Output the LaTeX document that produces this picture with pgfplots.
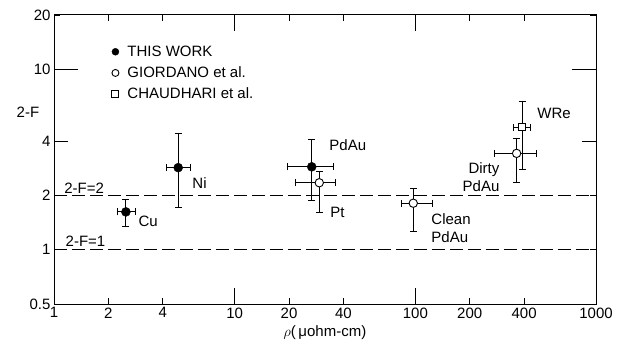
\documentclass[border=0pt]{standalone}
\usepackage{fontspec}
\setmainfont{Liberation Sans}
\usepackage{pgfplots}
\pgfplotsset{compat=1.18}
\begin{document}
\begin{tikzpicture}[font=\fontsize{15}{18}\selectfont]
\useasboundingbox (-54pt,-41pt) rectangle (563pt,304pt);
\begin{axis}[
  at={(0pt,0pt)}, anchor=south west,
  scale only axis, width=542pt, height=289pt,
  xmode=log, ymode=log,
  xmin=1, xmax=1000, ymin=0.5, ymax=20,
  axis line style={line width=1pt},
  xtick={1,2,4,10,20,40,100,200,400,1000},
  xticklabels={1,2,4,10,20,40,100,200,400,1000},
  ytick={0.5,1,2,4,10,20},
  yticklabels={0.5,1,2,4,10,20},
  xminorticks=false,
  minor ytick={4},
  major tick length=6pt, minor tick length=14pt,
  tick style={line width=0.9pt, black},
  extra x ticks={10,100}, extra x tick labels={},
  extra x tick style={major tick length=16pt},
  extra y ticks={10}, extra y tick labels={},
  extra y tick style={major tick length=24pt},
  /pgf/number format/assume math mode=true,
  xlabel={$\rho$(\,μohm-cm)},
  xlabel style={at={(axis description cs:0.5,-0.100)}, anchor=center},
  ylabel={2-F},
  ylabel style={rotate=-90, at={(axis description cs:-0.048,0.664)}, anchor=center},
  legend style={draw=none, fill=none, at={(0.101,0.908)}, anchor=north west, row sep=5pt},
  legend cell align=left,
  legend image code/.code={\draw[#1, mark size=3.5pt] plot coordinates {(0pt,0pt)};},
]
\addplot[black, line width=0.9pt, dash pattern=on 13pt off 5pt, forget plot] coordinates {(1,2) (1000,2)};
\addplot[black, line width=0.9pt, dash pattern=on 13pt off 5pt, forget plot] coordinates {(1,1) (1000,1)};

\addplot[only marks, black, mark=*, mark size=4.5pt, mark options={fill=black},
  error bars/.cd, x dir=both, x explicit, y dir=both, y explicit,
  error bar style={line width=0.9pt, black},
  error mark options={rotate=90, line width=0.9pt, mark size=3.5pt, black}]
  coordinates {
  (2.50,1.62) += (0.31,0.27) -= (0.26,0.27)
  (4.87,2.85) += (0.79,1.57) -= (0.67,1.14)
  (26.7,2.88) += (8.7,1.18) -= (7.2,1.00)
  };
\addlegendentry{\hspace{6.5pt}THIS WORK}

\addplot[only marks, black, mark=*, mark size=4.2pt, mark options={fill=white, line width=0.9pt},
  error bars/.cd, x dir=both, x explicit, y dir=both, y explicit,
  error bar style={line width=0.9pt, black},
  error mark options={rotate=90, line width=0.9pt, mark size=3.5pt, black}]
  coordinates {
  (29.4,2.35) += (6.5,0.36) -= (7.6,0.75)
  (97.4,1.81) += (27.3,0.38) -= (13.4,0.55)
  (363.6,3.42) += (105.4,0.72) -= (87.9,1.07)
  };
\addlegendentry{\hspace{6.5pt}GIORDANO et al.}

\addplot[only marks, black, mark=square*, mark size=3.5pt, mark options={fill=white, line width=0.9pt},
  error bars/.cd, x dir=both, x explicit, y dir=both, y explicit,
  error bar style={line width=0.9pt, black},
  error mark options={rotate=90, line width=0.9pt, mark size=3.5pt, black}]
  coordinates {
  (390.5,4.77) += (45.5,1.84) -= (42.5,2.00)
  };
\addlegendentry{\hspace{6.5pt}CHAUDHARI et al.}

\node[anchor=west] at (axis cs:2.81,1.44) {Cu};
\node[anchor=west] at (axis cs:5.58,2.34) {Ni};
\node[anchor=west] at (axis cs:32.0,3.80) {PdAu};
\node[anchor=west] at (axis cs:32.4,1.60) {Pt};
\node[anchor=west, align=left] at (axis cs:117.4,1.32) {Clean\\PdAu};
\node[anchor=east, align=right] at (axis cs:305.3,2.53) {Dirty\\PdAu};
\node[anchor=west] at (axis cs:453,5.73) {WRe};
\node[anchor=west] at (axis cs:1.09,2.20) {2-F=2};
\node[anchor=west] at (axis cs:1.11,1.12) {2-F=1};
\end{axis}
\end{tikzpicture}
\end{document}
